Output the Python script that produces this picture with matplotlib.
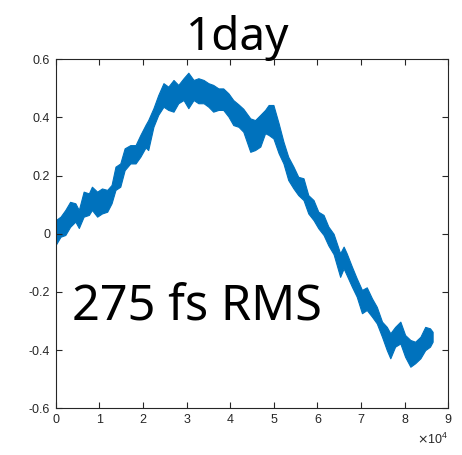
import matplotlib
matplotlib.use('Agg')
import matplotlib.pyplot as plt

plt.rcParams['axes.unicode_minus'] = False

# time (s) and the upper / lower edge of the jitter trace (ps)
t = [0, 1100, 2200, 3300, 4500, 5300, 6400, 7600, 8300, 9500,
     10600, 11800, 12800, 13700, 14800, 15800, 17100, 18300, 19400, 20600,
     21200, 22400, 23500, 24700, 25800, 27000, 28100, 29300, 30400, 31600,
     32700, 33900, 35000, 36100, 37300, 38400, 39600, 40700, 41900, 43000,
     44600, 45700, 46900, 48000, 48800, 49900, 51100, 52200, 53300, 54500,
     55600, 56800, 57900, 59100, 60200, 61400, 62500, 63700, 65200, 66000,
     66700, 67900, 69000, 70200, 71300, 72500, 73600, 74800, 75900, 76700,
     77800, 79000, 80100, 81300, 82400, 83600, 84700, 85800, 86400]
upper = [0.047, 0.059, 0.082, 0.110, 0.105, 0.082, 0.145, 0.139, 0.162, 0.145,
         0.156, 0.151, 0.168, 0.231, 0.242, 0.294, 0.305, 0.305, 0.340, 0.375,
         0.391, 0.432, 0.477, 0.518, 0.506, 0.529, 0.512, 0.535, 0.554, 0.529,
         0.535, 0.529, 0.518, 0.512, 0.500, 0.500, 0.483, 0.460, 0.445, 0.430,
         0.397, 0.391, 0.409, 0.426, 0.443, 0.443, 0.380, 0.317, 0.265, 0.231,
         0.196, 0.191, 0.133, 0.116, 0.076, 0.065, 0.025, 0.000, -0.067, -0.044,
         -0.067, -0.113, -0.153, -0.193, -0.184, -0.222, -0.251, -0.302, -0.320, -0.342,
         -0.320, -0.302, -0.348, -0.365, -0.371, -0.354, -0.320, -0.325, -0.337]
lower = [-0.038, -0.010, -0.004, 0.024, 0.042, 0.020, 0.059, 0.065, 0.082, 0.059,
         0.070, 0.076, 0.105, 0.151, 0.162, 0.219, 0.242, 0.242, 0.265, 0.297,
         0.288, 0.368, 0.409, 0.437, 0.426, 0.420, 0.449, 0.460, 0.432, 0.460,
         0.449, 0.449, 0.437, 0.420, 0.426, 0.426, 0.403, 0.374, 0.368, 0.351,
         0.282, 0.288, 0.300, 0.346, 0.340, 0.328, 0.277, 0.242, 0.185, 0.156,
         0.133, 0.116, 0.070, 0.047, 0.019, -0.004, -0.040, -0.070, -0.148, -0.119,
         -0.142, -0.182, -0.216, -0.273, -0.262, -0.285, -0.308, -0.354, -0.400, -0.428,
         -0.388, -0.377, -0.423, -0.457, -0.445, -0.428, -0.400, -0.388, -0.371]

xticks = [0, 10000, 20000, 30000, 40000, 50000, 60000, 70000, 80000, 90000]
xticklabels = ['0', '1', '2', '3', '4', '5', '6', '7', '8', '9']
yticks = [-0.6, -0.4, -0.2, 0, 0.2, 0.4, 0.6]
yticklabels = ['-0.6', '-0.4', '-0.2', '0', '0.2', '0.4', '0.6']

line_color = '#0072BD'
axis_color = '#262626'

fig = plt.figure(figsize=(4.62, 4.55), dpi=100)
ax = fig.add_axes([0.1206, 0.1026, 0.8498, 0.767])

ax.fill_between(t, lower, upper, color=line_color, linewidth=0.8, edgecolor=line_color)

ax.set_xlim(0, 90000)
ax.set_ylim(-0.6, 0.6)
ax.set_xticks(xticks)
ax.set_xticklabels(xticklabels)
ax.set_yticks(yticks)
ax.set_yticklabels(yticklabels)

for side in ax.spines.values():
    side.set_color(axis_color)
    side.set_linewidth(0.8)
ax.tick_params(direction='in', length=4, width=0.8, color=axis_color,
               labelcolor=axis_color, labelsize=9, top=True, right=True, pad=4)
for lbl in ax.get_xticklabels() + ax.get_yticklabels():
    lbl.set_family('Liberation Sans')

# exponent for the x axis
fig.text(0.970, 0.018, r'$\times\mathregular{10^{4}}$', ha='right', va='bottom',
         fontsize=9, color=axis_color, family='Liberation Sans')

fig.text(0.515, 0.890, '1day', ha='center', va='baseline', fontsize=33,
         family='Noto Sans', color='black')
ax.text(0.360, 0.254, '275 fs RMS', transform=ax.transAxes, ha='center',
        va='baseline', fontsize=35, family='Noto Sans', color='black')

fig.savefig('out.png', dpi=100)
